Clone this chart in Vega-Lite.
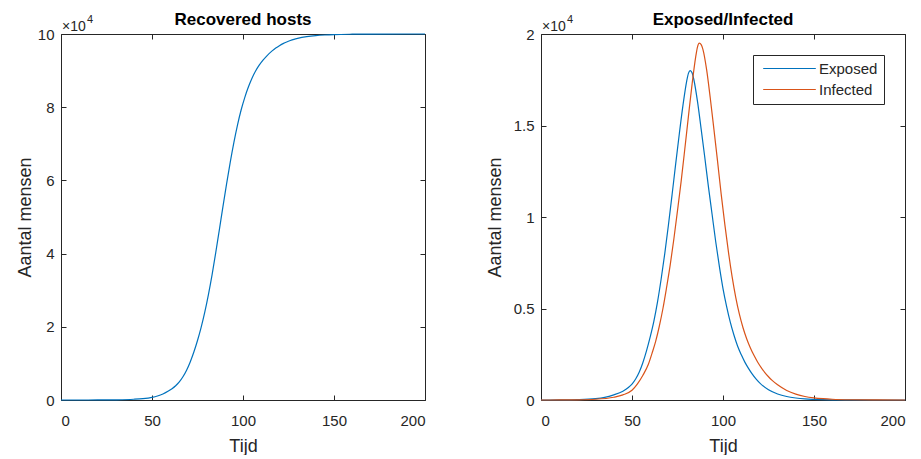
{
  "$schema": "https://vega.github.io/schema/vega-lite/v6.json",
  "padding": {"left": 16, "top": 11, "right": 0, "bottom": 0},
  "spacing": 58,
  "background": "white",
  "datasets": {
    "rec": [
      {"t": 0, "R": 0}, {"t": 10, "R": 2}, {"t": 20, "R": 13}, {"t": 30, "R": 54},
      {"t": 40, "R": 200}, {"t": 45, "R": 380}, {"t": 50, "R": 730}, {"t": 53, "R": 1100},
      {"t": 56, "R": 1650}, {"t": 59, "R": 2450}, {"t": 61, "R": 3100}, {"t": 63, "R": 3900},
      {"t": 65, "R": 4950}, {"t": 67, "R": 6350}, {"t": 69, "R": 8150}, {"t": 71, "R": 10400},
      {"t": 73, "R": 13100}, {"t": 75, "R": 16250}, {"t": 77, "R": 19850}, {"t": 79, "R": 24000},
      {"t": 81, "R": 28800}, {"t": 83, "R": 34200}, {"t": 85, "R": 40200}, {"t": 87, "R": 46500},
      {"t": 89, "R": 52900}, {"t": 91, "R": 59100}, {"t": 93, "R": 65000}, {"t": 95, "R": 70400},
      {"t": 97, "R": 75200}, {"t": 99, "R": 79300}, {"t": 101, "R": 82700}, {"t": 103, "R": 85580},
      {"t": 105, "R": 88010}, {"t": 107, "R": 89960}, {"t": 109, "R": 91540}, {"t": 111, "R": 92850},
      {"t": 113, "R": 93970}, {"t": 116, "R": 95380}, {"t": 118, "R": 96160}, {"t": 120, "R": 96820},
      {"t": 122, "R": 97370}, {"t": 124, "R": 97830}, {"t": 126, "R": 98210}, {"t": 128, "R": 98530},
      {"t": 130, "R": 98790}, {"t": 135, "R": 99270}, {"t": 140, "R": 99560}, {"t": 145, "R": 99730},
      {"t": 150, "R": 99840}, {"t": 160, "R": 99940}, {"t": 170, "R": 99980}, {"t": 200, "R": 100000}
    ],
    "ei": [
      {"t": 0, "v": 0, "s": "Exposed"}, {"t": 10, "v": 5, "s": "Exposed"}, {"t": 20, "v": 20, "s": "Exposed"},
      {"t": 30, "v": 70, "s": "Exposed"}, {"t": 35, "v": 140, "s": "Exposed"}, {"t": 40, "v": 280, "s": "Exposed"},
      {"t": 45, "v": 480, "s": "Exposed"}, {"t": 48, "v": 680, "s": "Exposed"}, {"t": 50, "v": 870, "s": "Exposed"},
      {"t": 52, "v": 1150, "s": "Exposed"}, {"t": 54, "v": 1530, "s": "Exposed"}, {"t": 56, "v": 2050, "s": "Exposed"},
      {"t": 58, "v": 2700, "s": "Exposed"}, {"t": 60, "v": 3450, "s": "Exposed"}, {"t": 62, "v": 4300, "s": "Exposed"},
      {"t": 64, "v": 5350, "s": "Exposed"}, {"t": 66, "v": 6600, "s": "Exposed"}, {"t": 68, "v": 8000, "s": "Exposed"},
      {"t": 70, "v": 9550, "s": "Exposed"}, {"t": 72, "v": 11200, "s": "Exposed"}, {"t": 74, "v": 12900, "s": "Exposed"},
      {"t": 76, "v": 14550, "s": "Exposed"}, {"t": 78, "v": 16100, "s": "Exposed"}, {"t": 80, "v": 17400, "s": "Exposed"},
      {"t": 81, "v": 17850, "s": "Exposed"}, {"t": 82, "v": 18000, "s": "Exposed"}, {"t": 83, "v": 17880, "s": "Exposed"},
      {"t": 84, "v": 17500, "s": "Exposed"}, {"t": 86, "v": 16300, "s": "Exposed"}, {"t": 88, "v": 14800, "s": "Exposed"},
      {"t": 90, "v": 13250, "s": "Exposed"}, {"t": 92, "v": 11650, "s": "Exposed"}, {"t": 94, "v": 10150, "s": "Exposed"},
      {"t": 96, "v": 8650, "s": "Exposed"}, {"t": 98, "v": 7300, "s": "Exposed"}, {"t": 100, "v": 6090, "s": "Exposed"},
      {"t": 102, "v": 5100, "s": "Exposed"}, {"t": 104, "v": 4250, "s": "Exposed"}, {"t": 106, "v": 3550, "s": "Exposed"},
      {"t": 108, "v": 2950, "s": "Exposed"}, {"t": 110, "v": 2480, "s": "Exposed"}, {"t": 112, "v": 2070, "s": "Exposed"},
      {"t": 114, "v": 1730, "s": "Exposed"}, {"t": 116, "v": 1430, "s": "Exposed"}, {"t": 118, "v": 1170, "s": "Exposed"},
      {"t": 120, "v": 950, "s": "Exposed"}, {"t": 125, "v": 560, "s": "Exposed"}, {"t": 130, "v": 330, "s": "Exposed"},
      {"t": 135, "v": 190, "s": "Exposed"}, {"t": 140, "v": 110, "s": "Exposed"}, {"t": 145, "v": 60, "s": "Exposed"},
      {"t": 150, "v": 35, "s": "Exposed"}, {"t": 160, "v": 10, "s": "Exposed"}, {"t": 175, "v": 2, "s": "Exposed"},
      {"t": 200, "v": 0, "s": "Exposed"},
      {"t": 0, "v": 0, "s": "Infected"}, {"t": 10, "v": 3, "s": "Infected"}, {"t": 20, "v": 10, "s": "Infected"},
      {"t": 30, "v": 40, "s": "Infected"}, {"t": 40, "v": 150, "s": "Infected"}, {"t": 45, "v": 280, "s": "Infected"},
      {"t": 50, "v": 530, "s": "Infected"}, {"t": 53, "v": 880, "s": "Infected"}, {"t": 56, "v": 1350, "s": "Infected"},
      {"t": 59, "v": 1950, "s": "Infected"}, {"t": 61, "v": 2550, "s": "Infected"}, {"t": 63, "v": 3200, "s": "Infected"},
      {"t": 65, "v": 4030, "s": "Infected"}, {"t": 67, "v": 5000, "s": "Infected"}, {"t": 69, "v": 6150, "s": "Infected"},
      {"t": 71, "v": 7380, "s": "Infected"}, {"t": 73, "v": 8800, "s": "Infected"}, {"t": 75, "v": 10350, "s": "Infected"},
      {"t": 77, "v": 11950, "s": "Infected"}, {"t": 79, "v": 13700, "s": "Infected"}, {"t": 81, "v": 15500, "s": "Infected"},
      {"t": 83, "v": 17250, "s": "Infected"}, {"t": 85, "v": 18750, "s": "Infected"}, {"t": 86, "v": 19300, "s": "Infected"},
      {"t": 87, "v": 19500, "s": "Infected"}, {"t": 88, "v": 19420, "s": "Infected"}, {"t": 89, "v": 19150, "s": "Infected"},
      {"t": 91, "v": 18050, "s": "Infected"}, {"t": 93, "v": 16500, "s": "Infected"}, {"t": 95, "v": 14800, "s": "Infected"},
      {"t": 97, "v": 13050, "s": "Infected"}, {"t": 99, "v": 11250, "s": "Infected"}, {"t": 101, "v": 9600, "s": "Infected"},
      {"t": 103, "v": 8080, "s": "Infected"}, {"t": 105, "v": 6740, "s": "Infected"}, {"t": 107, "v": 5610, "s": "Infected"},
      {"t": 109, "v": 4690, "s": "Infected"}, {"t": 111, "v": 3950, "s": "Infected"}, {"t": 113, "v": 3350, "s": "Infected"},
      {"t": 115, "v": 2860, "s": "Infected"}, {"t": 117, "v": 2440, "s": "Infected"}, {"t": 119, "v": 2080, "s": "Infected"},
      {"t": 121, "v": 1770, "s": "Infected"}, {"t": 123, "v": 1500, "s": "Infected"}, {"t": 125, "v": 1270, "s": "Infected"},
      {"t": 127, "v": 1070, "s": "Infected"}, {"t": 130, "v": 830, "s": "Infected"}, {"t": 135, "v": 520, "s": "Infected"},
      {"t": 140, "v": 320, "s": "Infected"}, {"t": 145, "v": 190, "s": "Infected"}, {"t": 150, "v": 115, "s": "Infected"},
      {"t": 155, "v": 70, "s": "Infected"}, {"t": 160, "v": 40, "s": "Infected"}, {"t": 170, "v": 14, "s": "Infected"},
      {"t": 185, "v": 4, "s": "Infected"}, {"t": 200, "v": 0, "s": "Infected"}
    ],
    "one": [{"k": 1}]
  },
  "resolve": {"scale": {"color": "independent"}, "legend": {"color": "independent"}},
  "hconcat": [
    {
      "width": 364,
      "height": 366,
      "title": "Recovered hosts",
      "layer": [
        {
          "data": {"name": "rec"},
          "mark": {"type": "line", "color": "#0072BD", "strokeWidth": 1.2, "interpolate": "monotone"},
          "encoding": {
            "x": {"field": "t", "type": "quantitative", "scale": {"domain": [0, 200], "nice": false},
                  "axis": {"orient": "bottom", "title": "Tijd", "values": [0, 50, 100, 150, 200]}},
            "y": {"field": "R", "type": "quantitative", "scale": {"domain": [0, 100000], "nice": false},
                  "axis": {"orient": "left", "title": "Aantal mensen", "titlePadding": 3, "values": [0, 20000, 40000, 60000, 80000, 100000],
                           "labelExpr": "format(datum.value/10000, '~g')"}}
          }
        },
        {
          "data": {"name": "rec"},
          "mark": {"type": "line", "opacity": 0},
          "encoding": {
            "x": {"field": "t", "type": "quantitative",
                  "axis": {"orient": "top", "title": null, "labels": false, "values": [0, 50, 100, 150, 200]}},
            "y": {"field": "R", "type": "quantitative",
                  "axis": {"orient": "right", "title": null, "labels": false, "values": [0, 20000, 40000, 60000, 80000, 100000]}}
          }
        },
        {
          "data": {"name": "one"},
          "mark": {"type": "text", "text": "×10", "fontSize": 14, "align": "left", "baseline": "alphabetic", "dx": 1, "dy": -3, "color": "#262626"},
          "encoding": {"x": {"datum": 0, "type": "quantitative", "axis": null}, "y": {"datum": 100000, "type": "quantitative", "axis": null}}
        },
        {
          "data": {"name": "one"},
          "mark": {"type": "text", "text": "4", "fontSize": 11, "align": "left", "baseline": "alphabetic", "dx": 26, "dy": -11, "color": "#262626"},
          "encoding": {"x": {"datum": 0, "type": "quantitative", "axis": null}, "y": {"datum": 100000, "type": "quantitative", "axis": null}}
        }
      ],
      "resolve": {"axis": {"x": "independent", "y": "independent"}}
    },
    {
      "width": 364,
      "height": 366,
      "title": "Exposed/Infected",
      "layer": [
        {
          "data": {"name": "ei"},
          "mark": {"type": "line", "strokeWidth": 1.2, "interpolate": "monotone"},
          "encoding": {
            "x": {"field": "t", "type": "quantitative", "scale": {"domain": [0, 200], "nice": false},
                  "axis": {"orient": "bottom", "title": "Tijd", "values": [0, 50, 100, 150, 200]}},
            "y": {"field": "v", "type": "quantitative", "scale": {"domain": [0, 20000], "nice": false},
                  "axis": {"orient": "left", "title": "Aantal mensen", "titlePadding": 9, "values": [0, 5000, 10000, 15000, 20000],
                           "labelExpr": "format(datum.value/10000, '~g')"}},
            "color": {"field": "s", "type": "nominal",
                      "scale": {"domain": ["Exposed", "Infected"], "range": ["#0072BD", "#D95319"]},
                      "legend": {"orient": "top-right", "offset": 21, "title": null, "strokeColor": "#262626",
                                 "fillColor": "white", "padding": 6, "labelFontSize": 15, "labelColor": "#262626",
                                 "symbolType": "M-4,0H4", "symbolSize": 173, "symbolStrokeWidth": 1.2,
                                 "symbolOffset": 23, "labelOffset": 22, "rowPadding": 5, "cornerRadius": 0}}
          }
        },
        {
          "data": {"name": "ei"},
          "mark": {"type": "line", "opacity": 0},
          "encoding": {
            "x": {"field": "t", "type": "quantitative",
                  "axis": {"orient": "top", "title": null, "labels": false, "values": [0, 50, 100, 150, 200]}},
            "y": {"field": "v", "type": "quantitative",
                  "axis": {"orient": "right", "title": null, "labels": false, "values": [0, 5000, 10000, 15000, 20000]}}
          }
        },
        {
          "data": {"name": "one"},
          "mark": {"type": "text", "text": "×10", "fontSize": 14, "align": "left", "baseline": "alphabetic", "dx": 1, "dy": -3, "color": "#262626"},
          "encoding": {"x": {"datum": 0, "type": "quantitative", "axis": null}, "y": {"datum": 20000, "type": "quantitative", "axis": null}}
        },
        {
          "data": {"name": "one"},
          "mark": {"type": "text", "text": "4", "fontSize": 11, "align": "left", "baseline": "alphabetic", "dx": 26, "dy": -11, "color": "#262626"},
          "encoding": {"x": {"datum": 0, "type": "quantitative", "axis": null}, "y": {"datum": 20000, "type": "quantitative", "axis": null}}
        }
      ],
      "resolve": {"axis": {"x": "independent", "y": "independent"}}
    }
  ],
  "config": {
    "font": "Liberation Sans",
    "view": {"stroke": null},
    "axis": {
      "grid": false, "domainColor": "#262626", "domainWidth": 1, "tickColor": "#262626", "tickWidth": 1,
      "tickSize": -5, "labelColor": "#262626", "labelFontSize": 15,
      "titleColor": "#262626", "titleFontSize": 18, "titleFontWeight": "normal"
    },
    "axisX": {"labelPadding": 18, "titlePadding": 9},
    "axisY": {"labelPadding": 12},
    "title": {"fontSize": 17, "fontWeight": "bold", "color": "#000000", "offset": -15}
  }
}
